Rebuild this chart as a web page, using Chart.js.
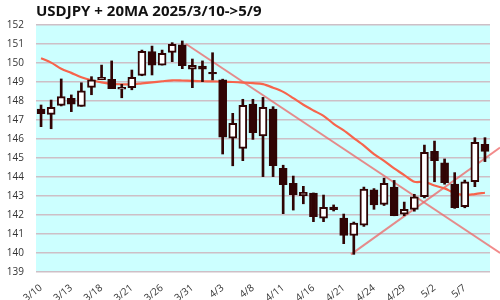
<!DOCTYPE html>
<html>
<head>
<meta charset="utf-8">
<script src="https://cdn.jsdelivr.net/npm/chart.js@4"></script>
<style>
  html, body { margin: 0; padding: 0; background: #fff; }
  #wrap { width: 500px; height: 300px; }
</style>
</head>
<body>
<div id="wrap"><canvas id="chart" width="500" height="300"></canvas></div>
<script>
// fechas (dias habiles 3/10 -> 5/9)
const dates = ['3/10','3/11','3/12','3/13','3/14','3/17','3/18','3/19','3/20','3/21',
  '3/24','3/25','3/26','3/27','3/28','3/31','4/1','4/2','4/3','4/4',
  '4/7','4/8','4/9','4/10','4/11','4/14','4/15','4/16','4/17','4/18',
  '4/21','4/22','4/23','4/24','4/25','4/28','4/29','4/30','5/1','5/2',
  '5/5','5/6','5/7','5/8','5/9'];

const openP = [147.58,147.30,147.77,148.14,147.72,148.72,149.12,149.14,148.62,148.70,
  149.35,150.60,149.89,150.56,150.95,149.67,149.84,149.51,149.11,146.04,
  145.51,147.84,146.16,147.58,144.46,143.67,143.02,143.16,141.83,142.42,
  141.84,140.93,141.46,143.32,142.56,143.47,142.04,142.30,142.96,145.35,
  144.74,143.63,142.44,143.75,145.72];
const highP = [147.79,148.05,149.16,148.32,148.96,149.28,149.89,150.11,148.88,149.63,
  150.68,150.89,150.68,151.07,151.16,150.21,150.11,150.54,149.15,147.35,
  148.09,148.09,148.19,147.70,144.62,144.05,143.51,143.16,143.05,142.53,
  142.05,141.63,143.47,143.39,143.94,143.82,142.68,143.09,145.68,145.89,
  144.95,144.23,143.84,146.07,146.07];
const lowP = [146.65,146.54,147.74,147.44,147.72,148.33,149.12,148.65,148.17,148.59,
  149.33,149.37,149.89,150.07,149.70,148.70,149.02,149.11,145.21,144.59,
  144.86,145.98,144.02,144.02,142.07,142.26,142.59,141.65,141.65,142.21,
  140.49,139.93,141.40,142.30,142.50,141.96,141.96,142.20,142.90,143.75,
  143.62,142.35,142.38,143.49,144.81];
const closeP = [147.33,147.67,148.23,147.83,148.53,149.11,149.25,148.65,148.72,149.25,
  150.62,149.89,150.51,150.98,149.86,149.88,149.67,149.42,146.09,146.83,
  147.77,146.33,147.67,144.59,143.59,143.07,143.19,141.91,142.41,142.28,
  140.93,141.58,143.37,142.53,143.67,141.96,142.30,142.96,145.30,144.86,
  143.70,142.38,143.74,145.83,145.35];
const ma20 = [150.25,150.02,149.70,149.48,149.25,149.09,148.98,148.90,148.88,148.88,
  148.93,148.98,149.04,149.09,149.08,149.06,149.04,149.03,149.02,149.00,
  148.97,148.94,148.89,148.70,148.48,148.15,147.80,147.50,147.22,146.80,
  146.45,146.05,145.65,145.20,144.85,144.45,144.10,143.75,143.74,143.55,
  143.40,143.15,143.05,143.10,143.17];

// lineas de tendencia: [indice, precio]
const trendDown = [[14.37, 151.0], [45.5, 140.0]];
const trendUp = [[30.72, 139.93], [45.5, 145.55]];

const yTicks = { min: 139, max: 152, step: 1 };

const dark = '#300404';

const bgPlugin = {
  id: 'plotBg',
  beforeDraw(chart) {
    const a = chart.chartArea;
    const ctx = chart.ctx;
    ctx.save();
    ctx.fillStyle = '#ccffff';
    ctx.fillRect(a.left, a.top, a.right - a.left, a.bottom - a.top);
    ctx.restore();
  }
};

const ctx = document.getElementById('chart').getContext('2d');
new Chart(ctx, {
  type: 'bar',
  data: {
    labels: dates,
    datasets: [
      {
        label: 'body',
        data: openP.map((o, i) => [o, closeP[i]]),
        backgroundColor: openP.map((o, i) => closeP[i] >= o ? '#ffffff' : dark),
        borderColor: dark,
        borderWidth: 2,
        borderSkipped: false,
        barThickness: 8,
        grouped: false,
        order: 0
      },
      {
        label: 'wick',
        data: lowP.map((l, i) => [l, highP[i]]),
        backgroundColor: dark,
        borderWidth: 0,
        barThickness: 2,
        grouped: false,
        order: 1
      },
      {
        type: 'line',
        label: '20MA',
        data: ma20,
        borderColor: '#f7644c',
        borderWidth: 2.2,
        pointRadius: 0,
        tension: 0.3,
        order: 2
      },
      {
        type: 'line',
        label: 'down',
        xAxisID: 'x2',
        data: trendDown.map(p => ({ x: p[0], y: p[1] })),
        borderColor: 'rgba(238, 100, 100, 0.75)',
        borderWidth: 2,
        pointRadius: 0,
        clip: false,
        order: 3
      },
      {
        type: 'line',
        label: 'up',
        xAxisID: 'x2',
        data: trendUp.map(p => ({ x: p[0], y: p[1] })),
        borderColor: 'rgba(238, 100, 100, 0.75)',
        borderWidth: 2,
        pointRadius: 0,
        clip: false,
        order: 3
      }
    ]
  },
  options: {
    responsive: false,
    animation: false,
    layout: { padding: { left: 0, right: 10, top: 0, bottom: 0 } },
    plugins: {
      legend: { display: false },
      tooltip: { enabled: false },
      title: {
        display: true,
        text: 'USDJPY + 20MA 2025/3/10->5/9',
        align: 'start',
        fullSize: false,
        color: '#111',
        font: { family: 'Open Sans', size: 15, weight: 'bold' },
        padding: { top: 3, bottom: 4 }
      }
    },
    scales: {
      x: {
        grid: { display: false },
        border: { display: false },
        afterFit(scale) { scale.height = 28; },
        ticks: {
          autoSkip: false,
          maxRotation: 38,
          minRotation: 38,
          padding: 2,
          color: '#333',
          font: { family: 'Open Sans', size: 10 },
          callback(val, idx) { return idx % 3 === 0 ? dates[idx] : ''; }
        }
      },
      x2: {
        type: 'linear',
        display: false,
        offset: false,
        min: -0.5,
        max: 44.5
      },
      y: {
        min: yTicks.min,
        max: yTicks.max,
        afterFit(scale) { scale.width = 36; },
        border: { display: false },
        grid: { color: '#cdbfc6', lineWidth: 1.5, drawTicks: false },
        ticks: {
          stepSize: yTicks.step,
          padding: 12,
          color: '#333',
          font: { family: 'Open Sans', size: 10 }
        }
      }
    }
  },
  plugins: [bgPlugin]
});
</script>
</body>
</html>
